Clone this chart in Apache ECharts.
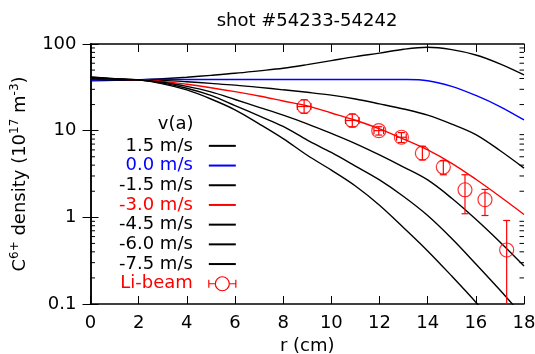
<!DOCTYPE html>
<html>
<head>
<meta charset="utf-8">
<script src="https://cdn.jsdelivr.net/npm/echarts@6/dist/echarts.min.js"></script>
<style>
  html, body { margin: 0; padding: 0; background: #fff; }
  #chart { width: 535px; height: 354px; }
</style>
</head>
<body>
<div id="chart"></div>
<script>
// radius grid (cm) for the model curves
const radius = [0, 1, 2, 3, 4, 5, 6, 7, 8, 9, 10, 11, 12, 13, 14, 15, 16, 17, 18]

// C6+ density (1e17 m^-3) for each edge velocity v(a)
const vPlus15  = [37.5, 38, 38.5, 39.8, 41.4, 43.5, 45.9, 49, 52.5, 57.8, 64.3, 71.5, 78.5, 87, 91.6, 86, 74.6, 59, 44]
const vZero    = [38.5, 38.8, 38.8, 39, 39, 39, 39, 39, 39, 39, 39, 39, 39, 38.9, 37.7, 32.5, 25.5, 19, 13.3]
const vMinus15 = [39.5, 38.9, 38.5, 38.0, 36.7, 35.1, 33.5, 31.6, 29.6, 27.7, 25.7, 23.2, 20.4, 17.8, 15.1, 11.9, 9.0, 5.9, 3.7]
const vMinus30 = [40.5, 39.4, 38.5, 37.0, 34.3, 31.3, 28.2, 25.1, 22.0, 19.3, 16.0, 13.2, 10.5, 8.0, 6.0, 4.2, 2.75, 1.74, 1.08]
const vMinus45 = [40.7, 39.5, 38.5, 36.2, 32.4, 28.0, 22.9, 18.6, 15.1, 12.0, 9.3, 7.1, 5.25, 3.8, 2.7, 1.66, 0.95, 0.52, 0.275]
const vMinus60 = [41.3, 39.7, 38.5, 35.4, 30.9, 25.5, 19.5, 14.8, 11.2, 7.8, 5.6, 3.9, 2.7, 1.74, 1.05, 0.57, 0.29, 0.145, 0.07]
const vMinus75 = [41.7, 39.8, 38.5, 34.7, 29.5, 23.2, 17.4, 12.0, 8.1, 5.2, 3.5, 2.3, 1.38, 0.76, 0.41, 0.21, 0.105, 0.05, 0.025]

// Li-beam measurement
const beamR    = [8.87, 10.87, 11.97, 12.91, 13.78, 14.65, 15.55, 16.38, 17.28]
const beamN    = [19.0, 13.1, 10.0, 8.4, 5.5, 3.8, 2.08, 1.6, 0.42]
const beamLow  = [15.9, 11.1, 8.9, 7.3, 4.6, 3.1, 1.1, 1.05, 0.05]
const beamHigh = [22.7, 15.5, 11.1, 9.5, 6.6, 4.5, 3.1, 2.1, 0.92]
const beamRErr = [0.28, 0.28, 0.2, 0.2, 0, 0, 0, 0, 0]

// axis ticks
const xTicks = [0, 2, 4, 6, 8, 10, 12, 14, 16, 18]
const minorLogTicks = [0.2, 0.3, 0.4, 0.5, 0.6, 0.7, 0.8, 0.9, 2, 3, 4, 5, 6, 7, 8, 9, 20, 30, 40, 50, 60, 70, 80, 90]

const FONT = 'DejaVu Sans'
const BLACK = '#000000'
const BLUE = '#0000ff'
const RED = '#ff0000'
const CLEAR = 'rgba(0,0,0,0)'

const curves = [
  { name: '1.5 m/s', data: vPlus15, color: BLACK },
  { name: '0.0 m/s', data: vZero, color: BLUE },
  { name: '-1.5 m/s', data: vMinus15, color: BLACK },
  { name: '-3.0 m/s', data: vMinus30, color: RED },
  { name: '-4.5 m/s', data: vMinus45, color: BLACK },
  { name: '-6.0 m/s', data: vMinus60, color: BLACK },
  { name: '-7.5 m/s', data: vMinus75, color: BLACK }
]

const chart = echarts.init(document.getElementById('chart'), null, { renderer: 'canvas' })

const axisLine = { show: true, lineStyle: { color: BLACK, width: 1.5 } }
const majorTick = { show: true, inside: true, length: 8, lineStyle: { color: BLACK, width: 1 } }

const lineSeries = curves.map(c => ({
  name: c.name,
  type: 'line',
  data: radius.map((r, i) => [r, c.data[i]]),
  showSymbol: false,
  symbol: 'none',
  smooth: 0.35,
  clip: true,
  lineStyle: { color: c.color, width: 1.4 },
  itemStyle: { color: c.color },
  silent: true,
  z: 3
}))

const errorSeries = {
  name: 'Li-beam',
  type: 'custom',
  clip: true,
  silent: true,
  z: 4,
  data: beamR.map((r, i) => [r, beamN[i], beamLow[i], beamHigh[i], beamRErr[i]]),
  encode: { x: 0, y: [1, 2, 3] },
  renderItem: (params, api) => {
    const r = api.value(0)
    const n = api.value(1)
    const lo = Math.max(api.value(2), 0.1)
    const hi = Math.min(api.value(3), 100)
    const re = api.value(4)
    const pLo = api.coord([r, lo])
    const pHi = api.coord([r, hi])
    const cap = 3.5
    const style = { stroke: RED, lineWidth: 1.2, fill: null }
    const children = [
      { type: 'line', shape: { x1: pLo[0], y1: pLo[1], x2: pHi[0], y2: pHi[1] }, style },
      { type: 'line', shape: { x1: pHi[0] - cap, y1: pHi[1], x2: pHi[0] + cap, y2: pHi[1] }, style }
    ]
    if (api.value(2) >= 0.1) {
      children.push({ type: 'line', shape: { x1: pLo[0] - cap, y1: pLo[1], x2: pLo[0] + cap, y2: pLo[1] }, style })
    }
    if (re > 0) {
      const pL = api.coord([r - re, n])
      const pR = api.coord([r + re, n])
      children.push({ type: 'line', shape: { x1: pL[0], y1: pL[1], x2: pR[0], y2: pR[1] }, style })
      children.push({ type: 'line', shape: { x1: pL[0], y1: pL[1] - cap, x2: pL[0], y2: pL[1] + cap }, style })
      children.push({ type: 'line', shape: { x1: pR[0], y1: pR[1] - cap, x2: pR[0], y2: pR[1] + cap }, style })
    }
    return { type: 'group', children }
  }
}

const circleSeries = {
  name: 'Li-beam',
  type: 'scatter',
  data: beamR.map((r, i) => [r, beamN[i]]),
  symbol: 'circle',
  symbolSize: 14,
  itemStyle: { color: CLEAR, borderColor: RED, borderWidth: 1.2 },
  silent: true,
  z: 5
}

const minorTickSeries = {
  name: 'minor-ticks',
  type: 'custom',
  silent: true,
  z: 6,
  data: minorLogTicks.map(v => [0, v]),
  renderItem: (params, api) => {
    const v = api.value(1)
    const pl = api.coord([0, v])
    const pr = api.coord([18, v])
    const style = { stroke: BLACK, lineWidth: 1 }
    return {
      type: 'group',
      children: [
        { type: 'line', shape: { x1: pl[0], y1: pl[1], x2: pl[0] + 4.5, y2: pl[1] }, style },
        { type: 'line', shape: { x1: pr[0] - 4.5, y1: pr[1], x2: pr[0], y2: pr[1] }, style }
      ]
    }
  }
}

// legend rows: line sample only, no dot in the middle
const hideDot = { color: CLEAR, borderWidth: 0 }
// circle with horizontal error bar, 27 x 14 box
const beamIcon = 'path://M0,3L0,11M0,7L6.5,7M20.5,7L27,7M27,3L27,11' +
  'M6.5,7C6.5,3.134,9.634,0,13.5,0C17.366,0,20.5,3.134,20.5,7C20.5,10.866,17.366,14,13.5,14C9.634,14,6.5,10.866,6.5,7Z'

const option = {
  animation: false,
  backgroundColor: '#ffffff',
  textStyle: { fontFamily: FONT },
  grid: { left: 90.5, right: 11, top: 44, bottom: 50, containLabel: false, outerBoundsMode: 'none' },
  graphic: [
    {
      type: 'text', x: 307, y: 21,
      style: { text: 'shot #54233-54242', font: '18px "DejaVu Sans"', fill: BLACK,
        textAlign: 'center', textVerticalAlign: 'middle', align: 'center', verticalAlign: 'middle' }
    },
    {
      type: 'text', x: 193.5, y: 124,
      style: { text: 'v(a)', font: '18px "DejaVu Sans"', fill: BLACK,
        textAlign: 'right', textVerticalAlign: 'middle', align: 'right', verticalAlign: 'middle' }
    }
  ],
  legend: {
    orient: 'vertical',
    align: 'right',
    left: 114,
    top: 131,
    itemWidth: 27,
    itemHeight: 14,
    itemGap: 0,
    selectedMode: false,
    itemStyle: hideDot,
    textStyle: { fontFamily: FONT, fontSize: 18, color: BLACK, lineHeight: 19.7, padding: [0, 11, 0, 0] },
    data: [
      { name: '1.5 m/s' },
      { name: '0.0 m/s', textStyle: { color: BLUE } },
      { name: '-1.5 m/s' },
      { name: '-3.0 m/s', textStyle: { color: RED } },
      { name: '-4.5 m/s' },
      { name: '-6.0 m/s' },
      { name: '-7.5 m/s' },
      {
        name: 'Li-beam',
        textStyle: { color: RED },
        icon: beamIcon,
        itemStyle: { color: CLEAR, borderColor: RED, borderWidth: 1.2 }
      }
    ]
  },
  xAxis: [
    {
      type: 'value', min: 0, max: 18, interval: 2, position: 'bottom',
      name: 'r (cm)', nameLocation: 'middle', nameGap: 31,
      nameTextStyle: { fontFamily: FONT, fontSize: 18, color: BLACK },
      axisLine,
      axisTick: majorTick,
      axisLabel: { fontFamily: FONT, fontSize: 18, color: BLACK, margin: 10,
        formatter: v => xTicks.includes(v) ? String(v) : '' },
      splitLine: { show: false }
    },
    {
      type: 'value', min: 0, max: 18, interval: 2, position: 'top',
      axisLine,
      axisTick: majorTick,
      axisLabel: { show: false },
      splitLine: { show: false }
    }
  ],
  yAxis: [
    {
      type: 'log', logBase: 10, min: 0.1, max: 100, position: 'left',
      name: '{b|C}{s|6+}{b| density (10}{s|17}{b| m}{s|-3}{b|)}',
      nameLocation: 'middle', nameGap: 58, nameRotate: 90,
      nameTextStyle: {
        color: BLACK,
        rich: {
          b: { fontFamily: FONT, fontSize: 18, color: BLACK, lineHeight: 24 },
          s: { fontFamily: FONT, fontSize: 12, color: BLACK, lineHeight: 12, verticalAlign: 'top' }
        }
      },
      axisLine,
      axisTick: majorTick,
      axisLabel: { fontFamily: FONT, fontSize: 18, color: BLACK, margin: 14 },
      minorTick: { show: false },
      splitLine: { show: false }
    },
    {
      type: 'log', logBase: 10, min: 0.1, max: 100, position: 'right',
      axisLine,
      axisTick: majorTick,
      axisLabel: { show: false },
      splitLine: { show: false }
    }
  ],
  series: [...lineSeries, errorSeries, circleSeries, minorTickSeries]
}

chart.setOption(option)
</script>
</body>
</html>
